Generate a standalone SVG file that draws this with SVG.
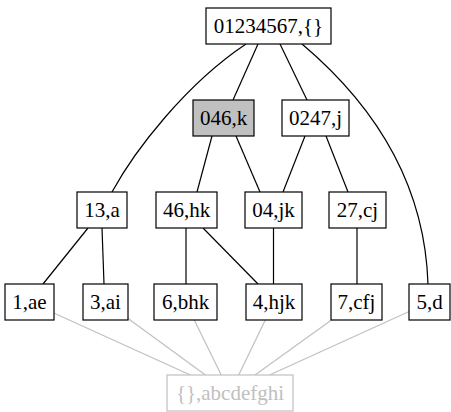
<svg xmlns="http://www.w3.org/2000/svg" width="451" height="412" viewBox="0 0 451 412">
<style>
.n rect{fill:#ffffff;stroke:#000000;stroke-width:1.2}
.n text{font-family:'Liberation Serif','Times New Roman',serif;font-size:21px;text-anchor:middle;fill:#000000}
#n_k rect{fill:#c0c0c0}
#n_bot rect{stroke:#c0c0c0}
#n_bot text{fill:#c0c0c0}
.e path,.e line{fill:none;stroke:#000000;stroke-width:1.2}
.g line{stroke:#c0c0c0}
</style>
<g id="edges" class="e">
<path d="M246,44 C186,84 135,150 112,192"/>
<line x1="258" y1="44" x2="233" y2="100"/>
<line x1="280" y1="44" x2="307" y2="100"/>
<path d="M302,44 C380,110 425,190 428,284"/>
<line x1="212" y1="136" x2="197" y2="192"/>
<line x1="236" y1="136" x2="260" y2="192"/>
<line x1="305" y1="136" x2="283" y2="192"/>
<line x1="326" y1="136" x2="348" y2="192"/>
<line x1="88" y1="228" x2="43" y2="284"/>
<line x1="102" y1="228" x2="104" y2="284"/>
<line x1="186" y1="228" x2="186" y2="284"/>
<line x1="203" y1="228" x2="258" y2="284"/>
<line x1="273.5" y1="228" x2="273.5" y2="284"/>
<line x1="357" y1="228" x2="357" y2="284"/>
<g class="g">
<line x1="29.5" y1="302" x2="230" y2="393"/>
<line x1="105.5" y1="302" x2="230" y2="393"/>
<line x1="185.5" y1="302" x2="230" y2="393"/>
<line x1="274" y1="302" x2="230" y2="393"/>
<line x1="356.5" y1="302" x2="230" y2="393"/>
<line x1="430" y1="302" x2="230" y2="393"/>
</g>
</g>
<g id="n_top" class="n"><rect x="206" y="8" width="125" height="36"/><text x="268.5" y="32.5">01234567,{}</text></g>
<g id="n_k" class="n"><rect x="193" y="100" width="61" height="36"/><text x="223.5" y="124.5">046,k</text></g>
<g id="n_j" class="n"><rect x="282" y="100" width="67" height="36"/><text x="315.5" y="124.5">0247,j</text></g>
<g id="n_a" class="n"><rect x="77" y="192" width="50" height="36"/><text x="102" y="216.5">13,a</text></g>
<g id="n_hk" class="n"><rect x="156" y="192" width="61" height="36"/><text x="186.5" y="216.5">46,hk</text></g>
<g id="n_jk" class="n"><rect x="245" y="192" width="57" height="36"/><text x="273.5" y="216.5">04,jk</text></g>
<g id="n_cj" class="n"><rect x="329" y="192" width="57" height="36"/><text x="357.5" y="216.5">27,cj</text></g>
<g id="n_ae" class="n"><rect x="5" y="284" width="49" height="36"/><text x="29.5" y="308.5">1,ae</text></g>
<g id="n_ai" class="n"><rect x="83" y="284" width="45" height="36"/><text x="105.5" y="308.5">3,ai</text></g>
<g id="n_bhk" class="n"><rect x="154" y="284" width="63" height="36"/><text x="185.5" y="308.5">6,bhk</text></g>
<g id="n_hjk" class="n"><rect x="246" y="284" width="56" height="36"/><text x="274" y="308.5">4,hjk</text></g>
<g id="n_cfj" class="n"><rect x="331" y="284" width="51" height="36"/><text x="356.5" y="308.5">7,cfj</text></g>
<g id="n_d" class="n"><rect x="409" y="284" width="41" height="36"/><text x="429.5" y="308.5">5,d</text></g>
<g id="n_bot" class="n"><rect x="167" y="375" width="126" height="36"/><text x="230" y="399.5">{},abcdefghi</text></g>
</svg>
